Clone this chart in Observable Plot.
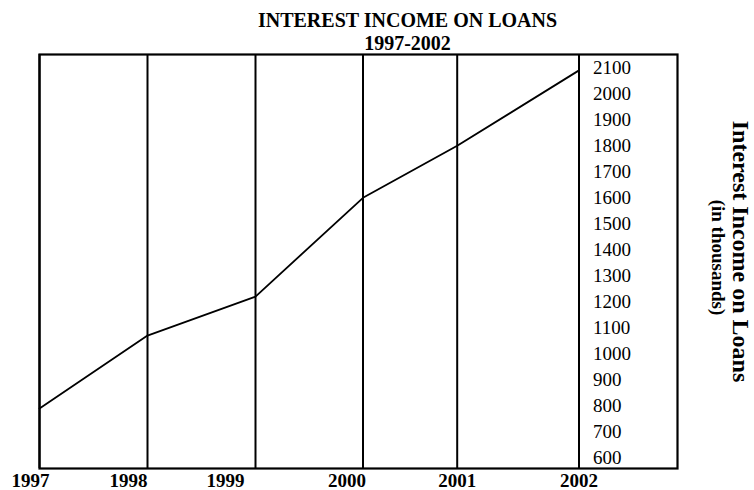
<!DOCTYPE html>
<html>
<head>
<meta charset="utf-8">
<script src="https://cdn.jsdelivr.net/npm/d3@7"></script>
<script src="https://cdn.jsdelivr.net/npm/@observablehq/plot@0.6"></script>
<style>
  html, body { margin: 0; padding: 0; background: #fff; }
  #chart svg { display: block; }
</style>
</head>
<body>
<div id="chart"></div>
<script>
// ---- data ----
const years = [1997, 1998, 1999, 2000, 2001, 2002];
const income = [790, 1070, 1220, 1600, 1800, 2090];
const yTicks = [600, 700, 800, 900, 1000, 1100, 1200, 1300, 1400, 1500, 1600, 1700, 1800, 1900, 2000, 2100];
const xLabels = ["1997", "1998", "1999", "2000", "2001", "2002"];
const titleLines = ["INTEREST INCOME ON LOANS", "1997-2002"];
const axisTitle = "Interest Income on Loans";
const axisSubtitle = "(in thousands)";

// ---- layout (not data) ----
const labelShift = [-9, -19, -30, -16, 0, 0];
const serif = "Liberation Serif, Times New Roman, serif";

const rows = years.map((y, i) => ({year: y, value: income[i]}));

const xLabelMarks = years.map((y, i) =>
  Plot.text([y], {
    x: d => d, frameAnchor: "bottom", dy: 12, dx: labelShift[i],
    text: () => xLabels[i], fontWeight: "bold", fontSize: 19, fontFamily: serif,
    fill: "black", lineAnchor: "middle"
  })
);

const chart = Plot.plot({
  width: 754,
  height: 490,
  marginLeft: 39,
  marginRight: 77,
  marginTop: 54,
  marginBottom: 22,
  style: {fontFamily: serif, background: "white"},
  x: {type: "linear", domain: [1997, 1998, 1999, 2000, 2001, 2002, 2002.8],
      range: [39, 147, 255, 362.5, 456.7, 578.5, 677], axis: null},
  y: {domain: [559, 2151], axis: null},
  marks: [
    Plot.ruleX(years, {stroke: "black", strokeWidth: 2}),
    Plot.frame({stroke: "black", strokeWidth: 2.2}),
    Plot.line(rows, {x: "year", y: "value", stroke: "black", strokeWidth: 1.8}),
    Plot.text(yTicks, {x: () => 2002, y: d => d, dx: 14, textAnchor: "start",
      text: d => String(d), fontSize: 19, fontFamily: serif, fill: "black"}),
    ...xLabelMarks,
    Plot.text([titleLines[0]], {frameAnchor: "top", dx: 49, dy: -42, text: d => d,
      textAnchor: "middle", fontWeight: "bold", fontSize: 20, fontFamily: serif, fill: "black"}),
    Plot.text([titleLines[1]], {frameAnchor: "top", dx: 49, dy: -19, text: d => d,
      textAnchor: "middle", fontWeight: "bold", fontSize: 20, fontFamily: serif, fill: "black"}),
    Plot.text([axisTitle], {frameAnchor: "right", dx: 63, dy: -10, rotate: 90, text: d => d,
      textAnchor: "middle", fontWeight: "bold", fontSize: 24, fontFamily: serif, fill: "black"}),
    Plot.text([axisSubtitle], {frameAnchor: "right", dx: 41, dy: -4, rotate: 90, text: d => d,
      textAnchor: "middle", fontWeight: "bold", fontSize: 19, fontFamily: serif, fill: "black"})
  ]
});
document.getElementById("chart").appendChild(chart);
</script>
</body>
</html>
